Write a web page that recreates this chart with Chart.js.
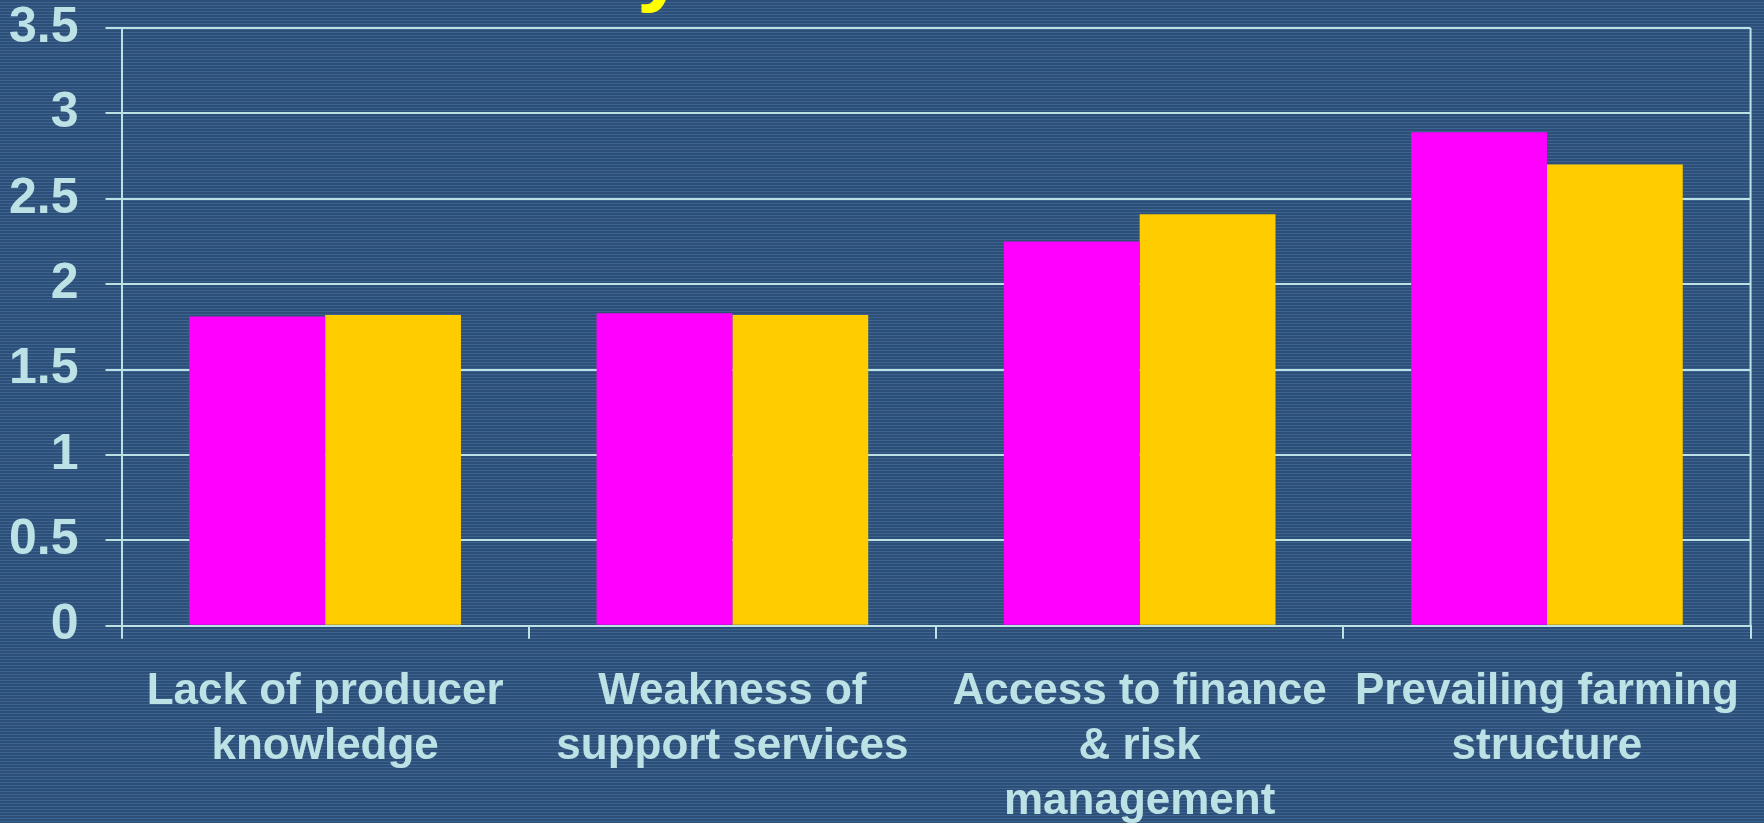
<!DOCTYPE html>
<html>
<head>
<meta charset="utf-8">
<script src="https://cdn.jsdelivr.net/npm/chart.js@4/dist/chart.umd.min.js"></script>
<style>
    html, body {
        margin: 0;
        padding: 0;
        width: 1764px;
        height: 823px;
        overflow: hidden;
        background: repeating-linear-gradient(to bottom, #2d4f77 0px, #2d4f77 2px, #3c6490 2px, #3c6490 3px);
    }
    #wrap {
        position: absolute;
        left: 0;
        top: -24px;
        width: 1764px;
        height: 868px;
    }
    #title {
        position: absolute;
        left: 637px;
        top: -79px;
        font: bold 88px 'Liberation Sans', Arial, sans-serif;
        line-height: 1;
        color: #ffff00;
    }
</style>
</head>
<body>
<div id="title">y</div>
<div id="wrap">
    <canvas id="chart"></canvas>
</div>
<script>
const categories = [
    ['Lack of producer', 'knowledge'],
    ['Weakness of', 'support services'],
    ['Access to finance', '& risk', 'management'],
    ['Prevailing farming', 'structure']
];
const seriesA = [1.81, 1.83, 2.25, 2.89];
const seriesB = [1.82, 1.82, 2.41, 2.70];
const yTicks = [0, 0.5, 1, 1.5, 2, 2.5, 3, 3.5];

const LINE = '#bde2e6';
const FONT = "'Liberation Sans', Arial, sans-serif";

// right edge of the plot frame
const frameRight = {
    id: 'frameRight',
    afterDraw(chart) {
        const { ctx, chartArea } = chart;
        ctx.save();
        ctx.strokeStyle = LINE;
        ctx.lineWidth = 2;
        ctx.beginPath();
        ctx.moveTo(chartArea.right, chartArea.top);
        ctx.lineTo(chartArea.right, chartArea.bottom);
        ctx.stroke();
        ctx.restore();
    }
};

new Chart(document.getElementById('chart'), {
    type: 'bar',
    data: {
        labels: categories,
        datasets: [{
            data: seriesA,
            backgroundColor: '#ff00ff'
        }, {
            data: seriesB,
            backgroundColor: '#ffcc00'
        }]
    },
    options: {
        responsive: true,
        maintainAspectRatio: false,
        animation: false,
        categoryPercentage: 0.667,
        barPercentage: 1,
        layout: {
            padding: { left: -18, right: 1, top: 0, bottom: -11 }
        },
        scales: {
            x: {
                grid: {
                    drawOnChartArea: false,
                    color: LINE,
                    lineWidth: 2,
                    tickLength: 13
                },
                border: { color: LINE, width: 2 },
                ticks: {
                    color: LINE,
                    maxRotation: 0,
                    autoSkip: false,
                    padding: 25,
                    font: { family: FONT, size: 44, weight: 'bold', lineHeight: 1.26 }
                }
            },
            y: {
                min: 0,
                max: 3.5,
                afterBuildTicks(scale) {
                    scale.ticks = yTicks.map(v => ({ value: v }));
                },
                grid: {
                    color: LINE,
                    lineWidth: 2,
                    tickLength: 16
                },
                border: { color: LINE, width: 2 },
                ticks: {
                    color: LINE,
                    padding: 27,
                    callback: v => String(v),
                    font: { family: FONT, size: 50, weight: 'bold', lineHeight: 1.0 }
                }
            }
        },
        plugins: {
            legend: { display: false },
            tooltip: { enabled: false }
        }
    },
    plugins: [frameRight]
});
</script>
</body>
</html>
